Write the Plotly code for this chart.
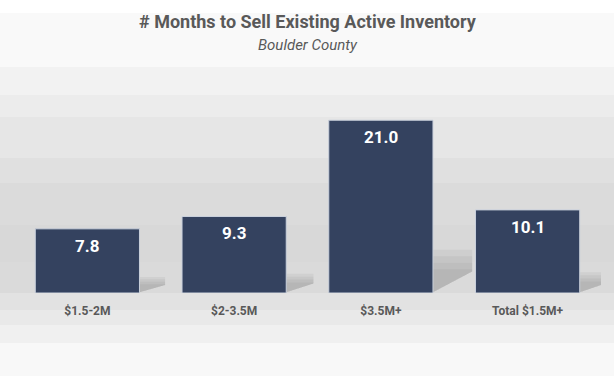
import plotly.graph_objects as go

categories = ["$1.5-2M", "$2-3.5M", "$3.5M+", "Total $1.5M+"]
months = [7.8, 9.3, 21.0, 10.1]
value_labels = ["7.8", "9.3", "21.0", "10.1"]

title_text = "# Months to Sell Existing Active Inventory"
subtitle_text = "Boulder County"

W, H = 614, 376
bar_color = "#34425f"
text_gray = "#595959"
cond_font = "Roboto, Arial"

m_l, m_r, m_t, m_b = 14, 13, 112, 83
ph = H - m_t - m_b
pw = W - m_l - m_r

# background bands (figure pixel rows, top -> bottom)
bands = [
    (0, 13, "#ffffff"), (13, 67, "#f9f9f9"), (67, 95, "#f2f2f2"),
    (95, 117, "#ececec"), (117, 158, "#e6e6e6"), (158, 183, "#e0e0e0"),
    (183, 225, "#dbdbdb"), (225, 262, "#d8d8d8"), (262, 293, "#dadada"),
    (293, 310, "#e2e2e2"), (310, 325, "#e9e9e9"), (325, 343, "#f0f0f0"),
    (343, 376, "#f8f8f8"),
]
shapes = []
for y0, y1, c in bands:
    shapes.append(dict(type="rect", xref="paper", yref="paper", layer="below",
                       x0=(-m_l - 5) / pw, x1=(W - m_l + 5) / pw,
                       y0=(H - y1 - m_b) / ph, y1=(H - y0 - m_b) / ph,
                       line=dict(width=0), fillcolor=c))

# soft cast shadows to the right of each bar (layered for a gradient look)
half = 0.355
for i, v in enumerate(months):
    xr = i + half
    h = 0.25 * v
    w = min(0.27, 0.12 + 0.007 * v)
    for frac in (0.55, 0.7, 0.85, 1.0):
        hk = h * frac
        shapes.append(dict(type="path", xref="x", yref="y", layer="below",
                           path=(f"M {xr} 0.1 L {xr} {hk} L {xr + w} {hk} "
                                 f"L {xr + w} {h * 0.5} Z"),
                           fillcolor="rgba(80,80,80,0.065)", line=dict(width=0)))

fig = go.Figure(go.Bar(
    x=list(range(len(categories))), y=months,
    marker=dict(color=bar_color, line=dict(color="#c9d0dc", width=1)),
    width=0.71, hoverinfo="skip",
))

annotations = [
    dict(text=f"<b>{title_text}</b>", xref="paper", yref="paper",
         x=0.5, y=1 + (m_t - 22) / ph, xanchor="center", yanchor="middle",
         showarrow=False, font=dict(family=cond_font, size=18, color=text_gray)),
    dict(text=f"<i>{subtitle_text}</i>", xref="paper", yref="paper",
         x=0.5, y=1 + (m_t - 45) / ph, xanchor="center", yanchor="middle",
         showarrow=False, font=dict(family=cond_font, size=15, color=text_gray)),
]
for i, (v, lab) in enumerate(zip(months, value_labels)):
    annotations.append(dict(text=f"<b>{lab}</b>", x=i, y=v, xref="x", yref="y",
                            yshift=-17, yanchor="middle", showarrow=False,
                            font=dict(family=cond_font, size=17, color="#ffffff")))

fig.update_layout(
    width=W, height=H,
    margin=dict(l=m_l, r=m_r, t=m_t, b=m_b),
    paper_bgcolor="#f4f4f4", plot_bgcolor="rgba(0,0,0,0)",
    showlegend=False, shapes=shapes, annotations=annotations,
    xaxis=dict(tickmode="array", tickvals=list(range(len(categories))),
               ticktext=[f"<b>{c}</b>" for c in categories],
               range=[-0.5, 3.5], showgrid=False, zeroline=False, showline=False,
               ticks="", ticklen=0, ticklabelstandoff=9,
               tickfont=dict(family=cond_font, size=12, color=text_gray)),
    yaxis=dict(range=[0, 22], visible=False, showgrid=False, zeroline=False),
)

fig.write_html("out.html", config={"displayModeBar": False},
               post_script="document.body.style.margin='0';")
